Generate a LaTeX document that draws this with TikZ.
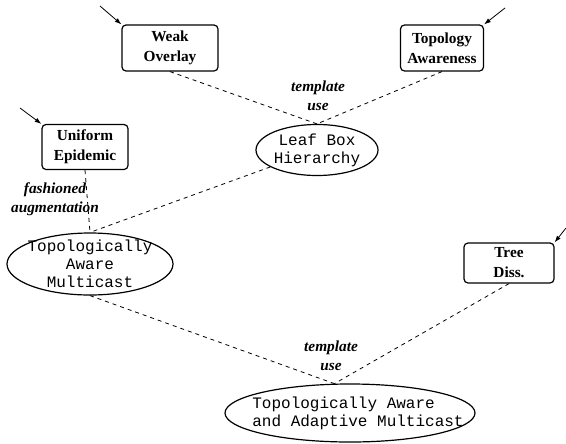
\documentclass[tikz,border=0pt]{standalone}
\usepackage{fontspec}
\setmainfont{Liberation Serif}
\newfontfamily\monofont{Liberation Mono}
\usetikzlibrary{arrows.meta, shapes.geometric}

\begin{document}
\begin{tikzpicture}[
    x=0.75pt, y=-0.75pt,
    box/.style={
        draw,
        line width=0.9pt,
        rounded corners=3pt,
        align=center,
        inner sep=0pt,
        font=\bfseries\fontsize{11.5}{15}\selectfont
    },
    oval/.style={
        draw,
        ellipse,
        line width=0.9pt,
        align=center,
        inner sep=-40pt,
        font=\monofont\fontsize{12}{13.5}\selectfont
    },
    note/.style={
        align=center,
        inner sep=0pt,
        font=\bfseries\itshape\fontsize{11.5}{14.5}\selectfont
    },
    link/.style={dashed, line width=0.6pt},
    feed/.style={-{Latex[length=5pt, width=3.5pt]}, line width=0.6pt}
]
\useasboundingbox (0,0) rectangle (566,443);

% ------------------------
% Building blocks (boxes)
% ------------------------
\node (weak) [box, minimum width=72pt, minimum height=34.5pt] at (170,48)
{Weak\\ Overlay};

\node (topo) [box, minimum width=62.25pt, minimum height=34.5pt] at (442,48)
{Topology\\ Awareness};

\node (unif) [box, minimum width=64.5pt, minimum height=33.75pt] at (85,147)
{Uniform\\ Epidemic};

\node (tree) [box, minimum width=67.5pt, minimum height=30pt] at (509,263)
{Tree\\ Diss.};

% ------------------------
% Derived protocols (ovals)
% ------------------------
\node (leaf) [oval, minimum width=91.5pt, minimum height=38.25pt] at (317,150)
{Leaf Box\\ Hierarchy};

\node (tam) [oval, minimum width=124.5pt, minimum height=46.5pt] at (90,264)
{Topologically\\ Aware\\ Multicast};

\node (taam) [oval, align=left, minimum width=187.5pt, minimum height=43.5pt] at (350,413)
{\hspace*{12pt}Topologically Aware\\ \hspace*{12pt}and Adaptive Multicast};

% ------------------------
% Incoming arrows
% ------------------------
\coordinate (weakin) at (100,6);
\coordinate (topoin) at (505,8);
\coordinate (unifin) at (20,108);
\coordinate (treein) at (566,228);

\draw[feed] (weakin) -- (weak.north west);
\draw[feed] (topoin) -- (topo.north east);
\draw[feed] (unifin) -- (unif.north west);
\draw[feed] (treein) -- (tree.north east);

% ------------------------
% Dashed links
% ------------------------
\draw[link] (weak.south) -- (leaf.north);
\draw[link] (topo.south) -- (leaf.north);
\draw[link] (unif.south) -- (tam.north);
\draw[link] (leaf) -- (tam.north);
\draw[link] (tam.south) -- (taam.118);
\draw[link] (tree.south) -- (taam.118);

% ------------------------
% Link labels
% ------------------------
\node (use1) [note] at (318,96) {template\\ use};
\node (aug) [note] at (55,199) {fashioned\\ augmentation};
\node (use2) [note] at (331,356) {template\\ use};

\end{tikzpicture}
\end{document}
